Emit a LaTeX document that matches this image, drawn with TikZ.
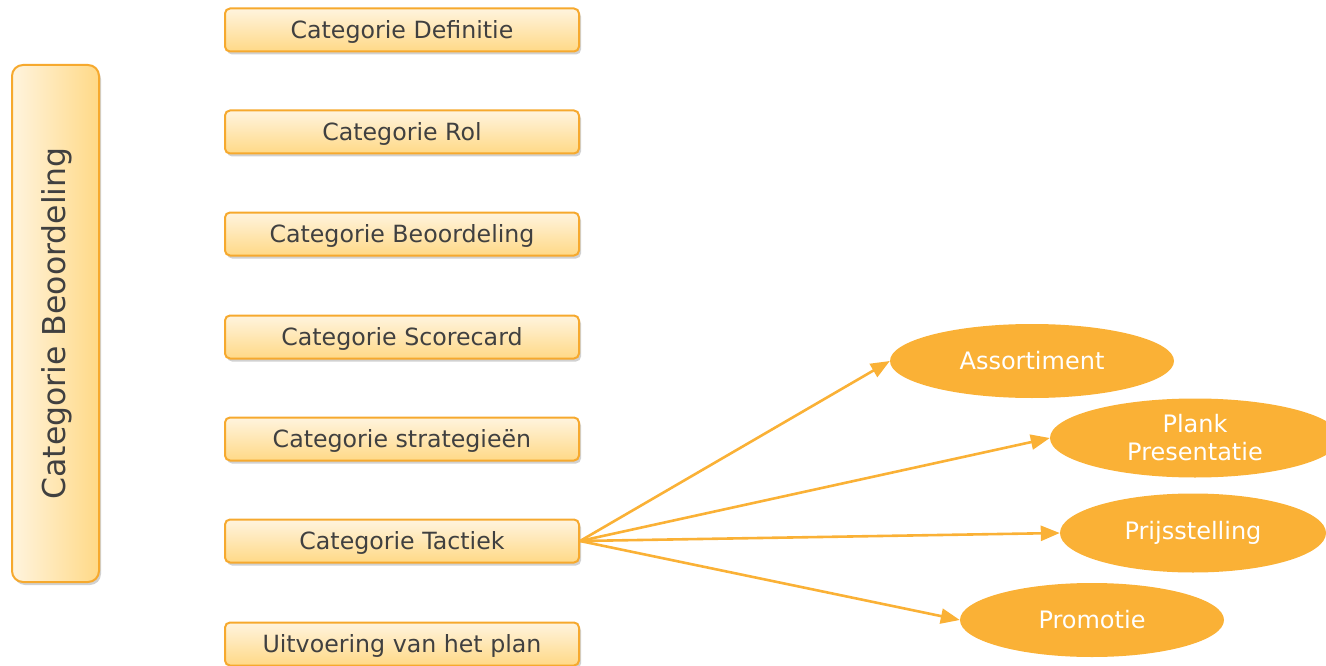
\documentclass[tikz,border=0pt]{standalone}
\usepackage{fontspec}
\setmainfont{DejaVu Sans}
\usetikzlibrary{arrows.meta,shapes.geometric,shadows}
\definecolor{boxedge}{HTML}{F6A92E}
\definecolor{boxlight}{HTML}{FFF4DE}
\definecolor{boxdark}{HTML}{FFD987}
\definecolor{ovalfill}{HTML}{FAB136}
\definecolor{textgray}{HTML}{404040}
\tikzset{
  boxbase/.style={draw=boxedge, line width=2pt, inner sep=0pt, text=textgray,
    drop shadow={shadow xshift=2pt, shadow yshift=-3pt, opacity=0.3, fill=black!60}},
  catbox/.style={boxbase, rounded corners=5pt,
    top color=boxlight, bottom color=boxdark,
    minimum width=354pt, minimum height=43pt,
    text height=22pt, text depth=5.6pt,
    font=\fontsize{23.7}{28}\selectfont},
  sidebox/.style={boxbase, rounded corners=11pt,
    left color=boxlight, right color=boxdark,
    minimum width=87pt, minimum height=517pt},
  sidetext/.style={rotate=90, text=textgray, font=\fontsize{31.5}{36}\selectfont},
  oval/.style={ellipse, fill=ovalfill, inner sep=0pt, text=white,
    font=\fontsize{24}{28}\selectfont, align=center},
  link/.style={draw=ovalfill, line width=2.6pt,
    -{Triangle[length=19pt,width=15pt]}}
}
\begin{document}
\begin{tikzpicture}[x=1pt,y=-1pt]
\useasboundingbox (0,0) rectangle (1326,666);

\node[sidebox] (side) at (55.5,323.5) {};
\node[sidetext] (sidelabel) at ([xshift=1.5pt]side.center) {Categorie Beoordeling};

\node[catbox] (c1) at (402,30)  {Categorie Definitie};
\node[catbox] (c2) at (402,132) {Categorie Rol};
\node[catbox] (c3) at (402,234) {Categorie Beoordeling};
\node[catbox] (c4) at (402,337) {Categorie Scorecard};
\node[catbox] (c5) at (402,439) {Categorie strategieën};
\node[catbox] (c6) at (402,541) {Categorie Tactiek};
\node[catbox] (c7) at (402,644) {Uitvoering van het plan};

\node[oval, minimum width=284pt, minimum height=74pt] (o1) at (1032,361) {Assortiment};
\node[oval, minimum width=290pt, minimum height=79pt] (o2) at (1195,438) {Plank\\Presentatie};
\node[oval, minimum width=266pt, minimum height=79pt] (o3) at (1193,533) {Prijsstelling};
\node[oval, minimum width=264pt, minimum height=74pt] (o4) at (1092,620) {Promotie};

\draw[link] (c6.east) -- (o1.west);
\draw[link] (c6.east) -- (o2.west);
\draw[link] (c6.east) -- (o3.west);
\draw[link] (c6.east) -- (o4.west);
\end{tikzpicture}
\end{document}
